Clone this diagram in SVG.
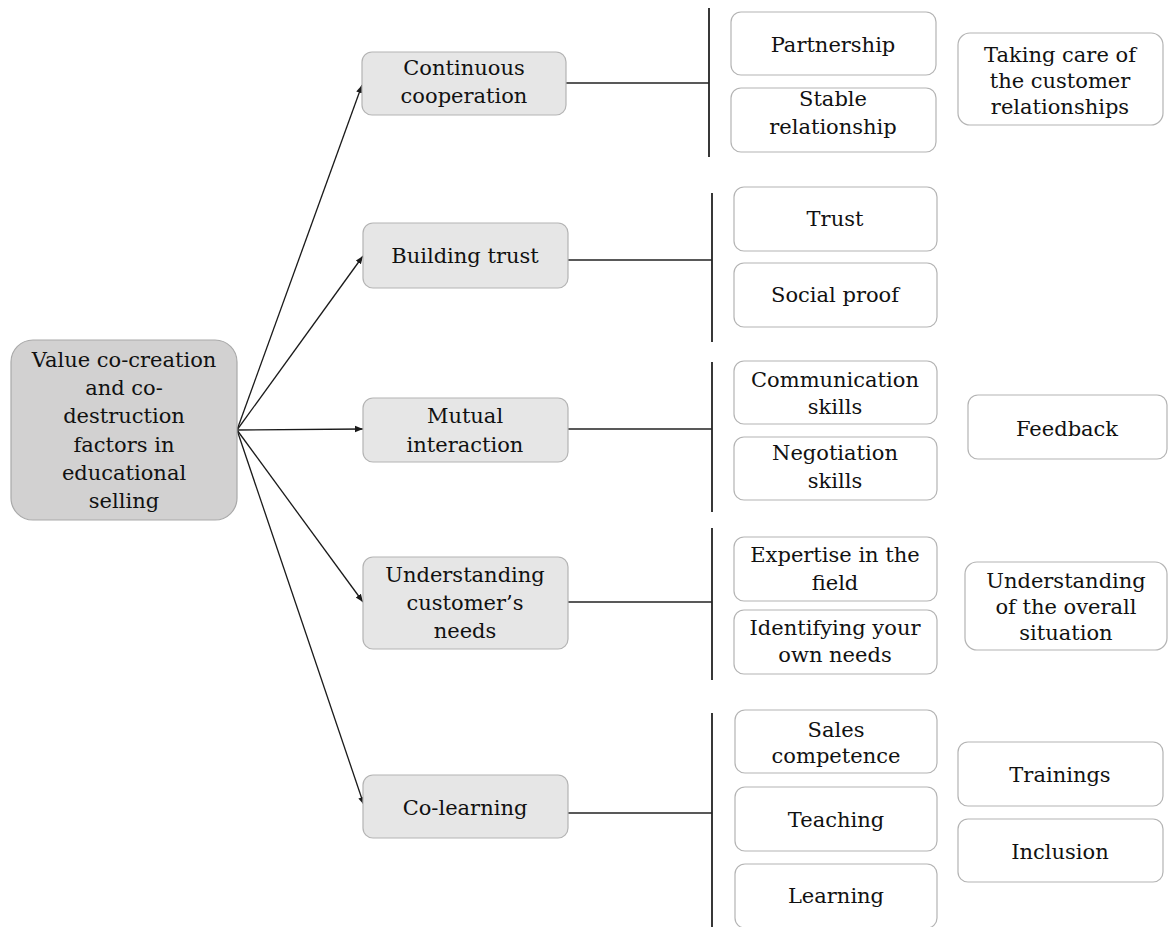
<svg xmlns="http://www.w3.org/2000/svg" width="1168" height="927" viewBox="0 0 1168 927">
  <style>
    text { font-family: "DejaVu Serif", "Liberation Serif", serif; font-size: 21px; fill: #111; text-anchor: middle; }
    .root { fill: #d2d1d1; stroke: #a9a9a9; stroke-width: 1.2; }
    .mid { fill: #e6e6e6; stroke: #b4b4b4; stroke-width: 1.2; }
    .leaf { fill: #ffffff; stroke: #b4b4b4; stroke-width: 1.2; }
    .arrow { stroke: #1a1a1a; stroke-width: 1.3; fill: none; marker-end: url(#head); }
    .link { stroke: #222; stroke-width: 1.5; fill: none; }
    .bar { stroke: #222; stroke-width: 1.8; fill: none; }
  </style>
  <defs>
    <marker id="head" viewBox="0 0 10 10" refX="10" refY="5" markerWidth="8" markerHeight="8" markerUnits="userSpaceOnUse" orient="auto">
      <path d="M0,1 L10,5 L0,9 z" fill="#1a1a1a"/>
    </marker>
  </defs>

  <!-- connectors -->
  <g id="connectors">
    <line class="arrow" x1="237" y1="430" x2="362" y2="85"/>
    <line class="arrow" x1="237" y1="430" x2="363" y2="256"/>
    <line class="arrow" x1="237" y1="430" x2="363" y2="429"/>
    <line class="arrow" x1="237" y1="430" x2="363" y2="602"/>
    <line class="arrow" x1="237" y1="430" x2="364" y2="805"/>

    <line class="link" x1="566" y1="83" x2="709" y2="83"/>
    <line class="bar" x1="709" y1="8" x2="709" y2="157"/>
    <line class="link" x1="568" y1="260" x2="712" y2="260"/>
    <line class="bar" x1="712" y1="193" x2="712" y2="342"/>
    <line class="link" x1="568" y1="429" x2="712" y2="429"/>
    <line class="bar" x1="712" y1="362" x2="712" y2="512"/>
    <line class="link" x1="568" y1="602" x2="712" y2="602"/>
    <line class="bar" x1="712" y1="528" x2="712" y2="680"/>
    <line class="link" x1="568" y1="813" x2="712" y2="813"/>
    <line class="bar" x1="712" y1="713" x2="712" y2="927"/>
  </g>

  <!-- root -->
  <g id="root">
    <rect class="root" x="11" y="340" width="226" height="180" rx="22"/>
    <text x="124" y="367">Value co-creation</text>
    <text x="124" y="395">and co-</text>
    <text x="124" y="423">destruction</text>
    <text x="124" y="452">factors in</text>
    <text x="124" y="480">educational</text>
    <text x="124" y="508">selling</text>
  </g>

  <!-- factor groups -->
  <g id="continuous-cooperation">
    <rect class="mid" x="362" y="52" width="204" height="63" rx="10"/>
    <text x="464" y="75">Continuous</text>
    <text x="464" y="103">cooperation</text>
  </g>
  <g id="building-trust">
    <rect class="mid" x="363" y="223" width="205" height="65" rx="10"/>
    <text x="465" y="263">Building trust</text>
  </g>
  <g id="mutual-interaction">
    <rect class="mid" x="363" y="398" width="205" height="64" rx="10"/>
    <text x="465" y="423">Mutual</text>
    <text x="465" y="452">interaction</text>
  </g>
  <g id="understanding-needs">
    <rect class="mid" x="363" y="557" width="205" height="92" rx="10"/>
    <text x="465" y="582">Understanding</text>
    <text x="465" y="610">customer’s</text>
    <text x="465" y="638">needs</text>
  </g>
  <g id="co-learning">
    <rect class="mid" x="363" y="775" width="205" height="63" rx="10"/>
    <text x="465" y="815">Co-learning</text>
  </g>

  <!-- continuous cooperation items -->
  <g id="partnership">
    <rect class="leaf" x="731" y="12" width="205" height="63" rx="10"/>
    <text x="833" y="52">Partnership</text>
  </g>
  <g id="stable-relationship">
    <rect class="leaf" x="731" y="88" width="205" height="64" rx="10"/>
    <text x="833" y="106">Stable</text>
    <text x="833" y="134">relationship</text>
  </g>
  <g id="customer-relationships">
    <rect class="leaf" x="958" y="33" width="205" height="92" rx="12"/>
    <text x="1060" y="62">Taking care of</text>
    <text x="1060" y="88">the customer</text>
    <text x="1060" y="114">relationships</text>
  </g>

  <!-- building trust items -->
  <g id="trust">
    <rect class="leaf" x="734" y="187" width="203" height="64" rx="10"/>
    <text x="835" y="226">Trust</text>
  </g>
  <g id="social-proof">
    <rect class="leaf" x="734" y="263" width="203" height="64" rx="10"/>
    <text x="835" y="302">Social proof</text>
  </g>

  <!-- mutual interaction items -->
  <g id="communication-skills">
    <rect class="leaf" x="734" y="361" width="203" height="63" rx="10"/>
    <text x="835" y="387">Communication</text>
    <text x="835" y="414">skills</text>
  </g>
  <g id="negotiation-skills">
    <rect class="leaf" x="734" y="437" width="203" height="63" rx="10"/>
    <text x="835" y="460">Negotiation</text>
    <text x="835" y="488">skills</text>
  </g>
  <g id="feedback">
    <rect class="leaf" x="968" y="395" width="199" height="64" rx="10"/>
    <text x="1067" y="436">Feedback</text>
  </g>

  <!-- understanding needs items -->
  <g id="expertise">
    <rect class="leaf" x="734" y="537" width="203" height="64" rx="10"/>
    <text x="835" y="562">Expertise in the</text>
    <text x="835" y="590">field</text>
  </g>
  <g id="identifying-needs">
    <rect class="leaf" x="734" y="610" width="203" height="64" rx="10"/>
    <text x="835" y="635">Identifying your</text>
    <text x="835" y="662">own needs</text>
  </g>
  <g id="overall-situation">
    <rect class="leaf" x="965" y="562" width="202" height="88" rx="12"/>
    <text x="1066" y="588">Understanding</text>
    <text x="1066" y="614">of the overall</text>
    <text x="1066" y="640">situation</text>
  </g>

  <!-- co-learning items -->
  <g id="sales-competence">
    <rect class="leaf" x="735" y="710" width="202" height="63" rx="10"/>
    <text x="836" y="737">Sales</text>
    <text x="836" y="763">competence</text>
  </g>
  <g id="teaching">
    <rect class="leaf" x="735" y="787" width="202" height="64" rx="10"/>
    <text x="836" y="827">Teaching</text>
  </g>
  <g id="learning">
    <rect class="leaf" x="735" y="864" width="202" height="64" rx="10"/>
    <text x="836" y="903">Learning</text>
  </g>
  <g id="trainings">
    <rect class="leaf" x="958" y="742" width="205" height="64" rx="10"/>
    <text x="1060" y="782">Trainings</text>
  </g>
  <g id="inclusion">
    <rect class="leaf" x="958" y="819" width="205" height="63" rx="10"/>
    <text x="1060" y="859">Inclusion</text>
  </g>
</svg>
